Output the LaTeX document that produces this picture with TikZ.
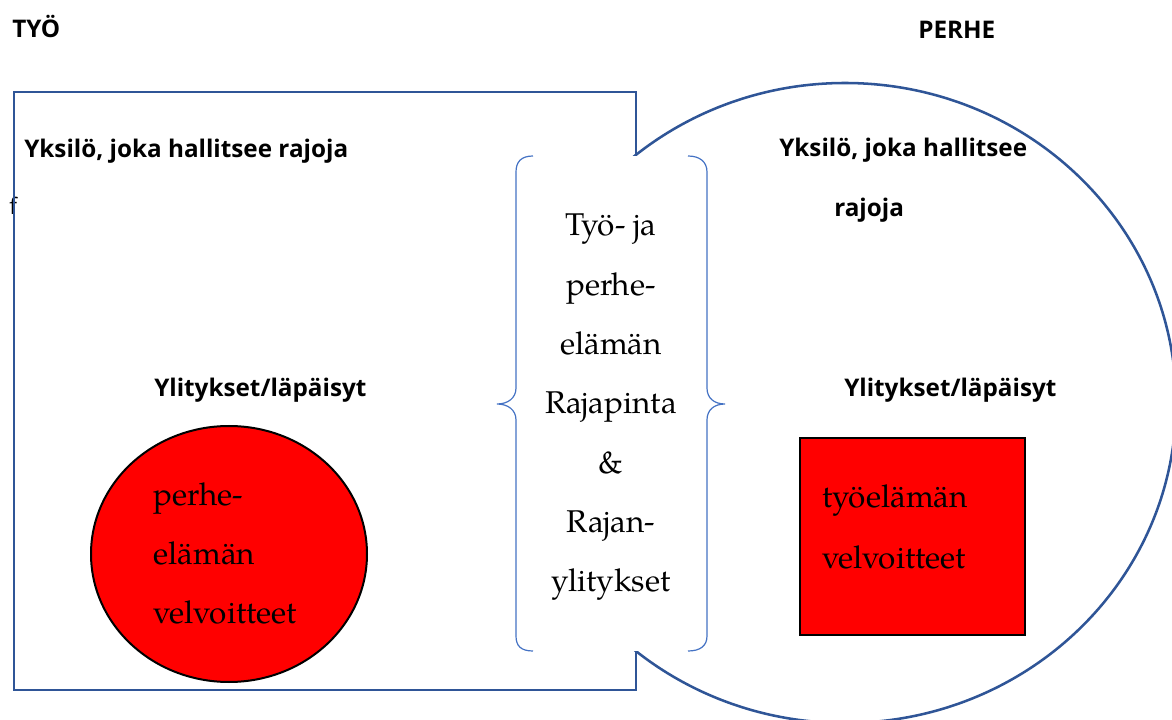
\documentclass[tikz,border=0pt]{standalone}
\usepackage{fontspec}
\setmainfont{TeX Gyre Pagella}
\newfontfamily\lblfont{Open Sans}
\usetikzlibrary{shapes.geometric}
\definecolor{frameblue}{RGB}{47,85,151}
\definecolor{braceblue}{RGB}{68,114,196}
\definecolor{boxred}{RGB}{255,0,0}
\tikzset{
  outline/.style={draw=frameblue, line width=1.9pt},
  bracestyle/.style={draw=braceblue, line width=0.9pt},
  redshape/.style={draw=black, line width=1.5pt, fill=boxred},
  lbl/.style={inner sep=0pt, anchor=base west, font=\lblfont\bfseries\fontsize{18.2}{22}\selectfont},
  serif/.style={inner sep=0pt, font=\fontsize{23.6}{28}\selectfont},
}
\begin{document}
\begin{tikzpicture}[x=0.75pt,y=-0.75pt]
\useasboundingbox (0,0) rectangle (1172,720);
\fill[white] (0,0) rectangle (1172,720);

% stray character under the frame line
\node[inner sep=0pt, anchor=base west, font=\lblfont\fontsize{17}{20}\selectfont] (fchar) at (9,215) {f};

% work frame and family ellipse
\draw[outline] (14,92) rectangle (636,690);
\draw[outline, fill=white] (845,403) ellipse [x radius=331, y radius=320];

% bracket pair
\fill[white] (508,156) rectangle (707,651);
\draw[bracestyle] (533,156) .. controls (521,156) and (516,162) .. (516,172) -- (516,388)
  .. controls (516,398) and (508,404) .. (497,404)
  .. controls (508,404) and (516,410) .. (516,420) -- (516,636)
  .. controls (516,646) and (521,651) .. (533,651);
\draw[bracestyle] (688,156) .. controls (700,156) and (707,162) .. (707,172) -- (707,388)
  .. controls (707,398) and (714,404) .. (725,404)
  .. controls (714,404) and (707,410) .. (707,420) -- (707,636)
  .. controls (707,646) and (700,651) .. (688,651);

% red shapes
\draw[redshape] (229,554) ellipse [x radius=138, y radius=128];
\draw[redshape] (800,438) rectangle (1025,635);

% headings and labels
\node[lbl] (tyo) at (12,38) {TYÖ};
\node[lbl] (perhe) at (918,39) {PERHE};
\node[lbl] (yksL) at (24,158) {Yksilö, joka hallitsee rajoja};
\node[lbl] (yksR) at (779,157) {Yksilö, joka hallitsee};
\node[lbl] (rajR) at (834,217) {rajoja};
\node[lbl] (yliL) at (154,397) {Ylitykset/läpäisyt};
\node[lbl] (yliR) at (844,397) {Ylitykset/läpäisyt};

% bracket text
\foreach \t [count=\i] in {Työ- ja, perhe-, elämän, Rajapinta, \&, Rajan-, ylitykset}
  \node[serif, anchor=base] (br\i) at (611,{236+59.3*(\i-1)}) {\t};

% ellipse text
\node[serif, anchor=base west] (e1) at (153,505) {perhe-};
\node[serif, anchor=base west] (e2) at (153,564) {elämän};
\node[serif, anchor=base west] (e3) at (153,623) {velvoitteet};

% square text
\node[serif, anchor=base west] (s1) at (822,508) {työelämän};
\node[serif, anchor=base west] (s2) at (822,568) {velvoitteet};
\end{tikzpicture}
\end{document}
